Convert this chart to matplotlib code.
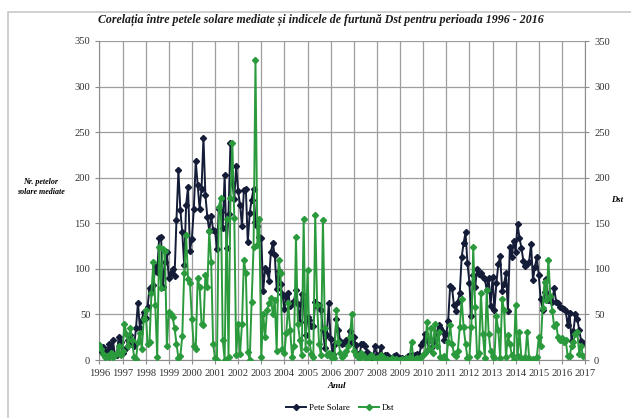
import numpy as np
import matplotlib
matplotlib.use("Agg")
import matplotlib.pyplot as plt
from matplotlib.patches import Rectangle

# valori lunare 1996 - 2016
ani = list(range(1996, 2017))

pete_solare = [
    17, 10, 14, 9, 10, 18, 13, 22, 6, 5, 25, 20,          # 1996
    8, 11, 13, 22, 27, 18, 15, 35, 63, 35, 44, 53,        # 1997
    46, 58, 79, 77, 82, 103, 97, 134, 135, 80, 107, 119,  # 1998
    90, 96, 100, 92, 154, 208, 165, 140, 104, 170, 190, 120,  # 1999
    133, 166, 218, 192, 166, 188, 244, 181, 157, 142, 158, 143,  # 2000
    142, 122, 166, 162, 145, 203, 123, 160, 238, 194, 177, 213,  # 2001
    185, 170, 147, 187, 188, 129, 161, 176, 188, 151, 147, 135,  # 2002
    134, 76, 101, 98, 87, 119, 128, 115, 78, 98, 83, 72,  # 2003
    56, 69, 74, 59, 62, 65, 77, 61, 42, 72, 65, 27,       # 2004
    47, 44, 37, 37, 64, 59, 60, 55, 33, 13, 27, 62,       # 2005
    23, 7, 16, 45, 33, 21, 18, 19, 22, 16, 32, 20,        # 2006
    25, 16, 7, 6, 18, 18, 15, 9, 4, 1, 3, 15,             # 2007
    5, 3, 14, 4, 5, 5, 1, 1, 2, 4, 6, 1,                  # 2008
    2, 2, 1, 2, 4, 4, 5, 0, 6, 7, 6, 16,                  # 2009
    20, 28, 23, 12, 13, 20, 24, 29, 38, 35, 32, 22,       # 2010
    28, 43, 81, 79, 60, 54, 64, 73, 113, 128, 140, 106,   # 2011
    85, 48, 93, 80, 100, 94, 96, 91, 89, 77, 90, 59,      # 2012
    91, 55, 84, 105, 114, 76, 83, 96, 54, 124, 113, 131,  # 2013
    119, 149, 134, 123, 109, 103, 105, 108, 127, 88, 102, 113,  # 2014
    93, 67, 55, 75, 89, 66, 66, 64, 79, 64, 62, 58,       # 2015
    57, 56, 54, 38, 52, 21, 32, 50, 45, 33, 21, 19,       # 2016
]

dst = [
    16, 12, 7, 3, 4, 3, 8, 3, 6, 8, 15, 5,                # 1996
    10, 40, 29, 15, 35, 22, 3, 1, 20, 30, 12, 45,         # 1997
    55, 18, 20, 73, 108, 60, 3, 124, 79, 122, 120, 15,    # 1998
    53, 50, 47, 35, 18, 2, 4, 26, 95, 137, 89, 84,        # 1999
    45, 15, 12, 90, 80, 40, 38, 93, 80, 141, 108, 18,     # 2000
    2, 0, 168, 178, 22, 0, 155, 3, 178, 238, 156, 5,      # 2001
    40, 7, 40, 110, 95, 9, 0, 64, 124, 329, 126, 155,     # 2002
    3, 51, 25, 55, 62, 68, 50, 66, 10, 110, 95, 12,       # 2003
    8, 30, 62, 33, 3, 15, 135, 40, 22, 5, 155, 12,        # 2004
    99, 20, 7, 3, 159, 60, 18, 5, 154, 35, 5, 8,          # 2005
    3, 5, 2, 55, 20, 8, 3, 5, 10, 15, 25, 51,             # 2006
    10, 5, 3, 2, 8, 5, 3, 0, 2, 5, 3, 1,                  # 2007
    2, 0, 5, 3, 0, 1, 0, 0, 2, 0, 1, 0,                   # 2008
    0, 1, 0, 2, 0, 3, 20, 0, 1, 2, 0, 3,                  # 2009
    5, 8, 42, 12, 35, 8, 40, 15, 31, 3, 2, 4,             # 2010
    0, 20, 38, 18, 7, 4, 10, 36, 67, 36, 18, 2,           # 2011
    3, 36, 124, 58, 4, 8, 73, 29, 2, 77, 29, 10,          # 2012
    4, 2, 48, 33, 2, 67, 55, 3, 27, 18, 5, 0,             # 2013
    60, 4, 31, 2, 0, 3, 31, 2, 0, 1, 0, 3,                # 2014
    25, 15, 57, 86, 66, 110, 70, 54, 37, 40, 25, 22,      # 2015
    24, 20, 22, 4, 4, 15, 20, 29, 31, 7, 15, 4,           # 2016
]

etichete_ani = [str(a) for a in range(1996, 2018)]

# axa timpului: an + luna/12
timp = [ani[0] + i / 12 for i in range(len(pete_solare))]

serif = ["Liberation Serif", "DejaVu Serif"]
fig = plt.figure(figsize=(6.31, 4.18), dpi=100)
fig.patch.set_facecolor("white")

# chenarul graficului
fig.add_artist(Rectangle((8 / 631, -0.01), 1.0, 1 - 12 / 418 + 0.01,
                         transform=fig.transFigure, fill=False,
                         edgecolor="#c8c8c8", linewidth=1.2))

ax = fig.add_axes([99.4 / 631, 1 - 360 / 418, (585 - 99.4) / 631, (360 - 41) / 418])

ax.plot(timp, pete_solare, color="#141c38", marker="D", markersize=3.1,
        linewidth=1.4, label="Pete Solare", zorder=3)
ax.plot(timp, dst, color="#2b9a3c", marker="D", markersize=3.1,
        linewidth=1.4, label="Dst", zorder=4)

ax.set_xlim(1996, 2017)
ax.set_ylim(0, 350)
ax.set_xticks(range(1996, 2018))
ax.set_xticklabels(etichete_ani)
ax.set_yticks(range(0, 351, 50))
ax.grid(True, color="#9e9e9e", linewidth=0.9)
ax.set_axisbelow(True)
for s in ["top", "right"]:
    ax.spines[s].set_visible(False)
for s in ["left", "bottom"]:
    ax.spines[s].set_color("#8c8c8c")
ax.tick_params(axis="both", labelsize=7.6, colors="#8c8c8c", labelcolor="#333333",
               length=3, width=0.8)
for lab in ax.get_xticklabels() + ax.get_yticklabels():
    lab.set_family(serif)

ax2 = ax.twinx()
ax2.set_ylim(0, 350)
ax2.set_yticks(range(0, 351, 50))
for s in ["top", "left", "bottom"]:
    ax2.spines[s].set_visible(False)
ax2.spines["right"].set_color("#8c8c8c")
ax2.tick_params(axis="y", labelsize=7.6, colors="#8c8c8c", labelcolor="#333333",
                length=3, width=0.8)
for lab in ax2.get_yticklabels():
    lab.set_family(serif)

fig.text(321 / 631, 1 - 20 / 418,
         "Corelația între petele solare mediate și indicele de furtună Dst pentru perioada 1996 - 2016",
         ha="center", va="center", fontsize=8.6, fontweight="bold", style="italic",
         family=serif, color="#1a1a1a")
fig.text(41 / 631, 1 - 187 / 418, "Nr. petelor\nsolare mediate", ha="center", va="center",
         fontsize=5.8, fontweight="bold", style="italic", family=serif, linespacing=1.2)
fig.text(617 / 631, 1 - 200 / 418, "Dst", ha="center", va="center",
         fontsize=6.2, fontweight="bold", style="italic", family=serif)
fig.text(337 / 631, 1 - 386 / 418, "Anul", ha="center", va="center",
         fontsize=6.5, fontweight="bold", style="italic", family=serif)

leg = fig.legend(*ax.get_legend_handles_labels(), loc="center",
                 bbox_to_anchor=(340 / 631, 1 - 408 / 418), ncol=2, frameon=False,
                 prop={"family": serif, "size": 6.5}, handlelength=2.2,
                 columnspacing=1.0, handletextpad=0.3)

fig.savefig("out.png", dpi=100)
